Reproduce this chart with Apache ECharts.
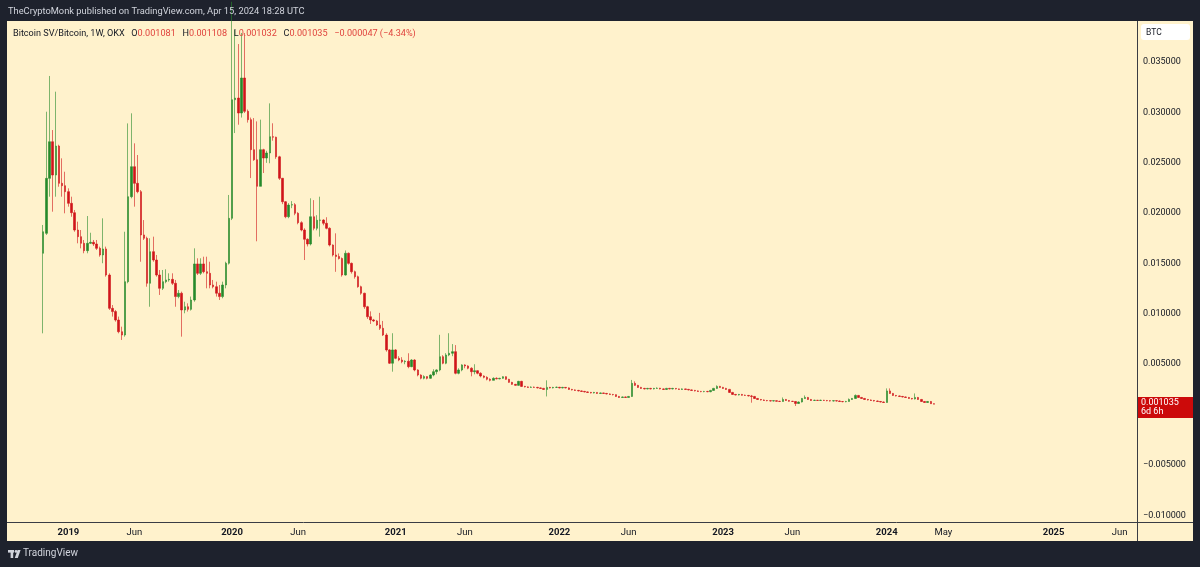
<!DOCTYPE html>
<html>
<head>
<meta charset="utf-8">
<script src="https://cdn.jsdelivr.net/npm/echarts@6/dist/echarts.min.js"></script>
<style>
  html, body { margin: 0; padding: 0; background: #1e222d; }
  #chart { width: 1200px; height: 567px; }
</style>
</head>
<body>
<div id="chart"></div>
<script>
// BSV/BTC weekly candles (OKX), first bar = week of Mon 12 Nov 2018, last = 15 Apr 2024
const firstBarWeek = '2018-11-12'
const padWeeks = 11      // empty weeks left of the first bar
const axisWeeks = 359    // weeks shown on the time scale (incl. future space)

const opens = [
  0.01602, 0.01800, 0.02346, 0.02710, 0.02379, 0.02667, 0.02297, 0.02273, 0.02214, 0.02098,
  0.02005, 0.01833, 0.01767, 0.01701, 0.01628, 0.01701, 0.01711, 0.01694, 0.01651, 0.01585,
  0.01645, 0.01386, 0.01055, 0.01023, 0.00939, 0.00823, 0.00790, 0.01320, 0.02164, 0.02462,
  0.02297, 0.02214, 0.01784, 0.01751, 0.01304, 0.01618, 0.01535, 0.01386, 0.01254, 0.01320,
  0.01337, 0.01343, 0.01304, 0.01172, 0.01205, 0.01039, 0.01071, 0.01045, 0.01138, 0.01496,
  0.01403, 0.01496, 0.01419, 0.01403, 0.01287, 0.01270, 0.01205, 0.01172, 0.01287, 0.01503,
  0.01949, 0.03127, 0.03144, 0.02995, 0.03343, 0.03012, 0.02929, 0.02631, 0.02531, 0.02267,
  0.02631, 0.02548, 0.02598, 0.02760, 0.02755, 0.02560, 0.02347, 0.02114, 0.01965, 0.02081,
  0.02085, 0.01999, 0.01906, 0.01833, 0.01741, 0.01694, 0.01965, 0.01850, 0.01930, 0.01932,
  0.01900, 0.01850, 0.01684, 0.01585, 0.01570, 0.01550, 0.01386, 0.01602, 0.01502, 0.01419,
  0.01369, 0.01270, 0.01205, 0.01071, 0.00972, 0.00940, 0.00930, 0.00890, 0.00857, 0.00790,
  0.00642, 0.00510, 0.00642, 0.00559, 0.00542, 0.00525, 0.00530, 0.00476, 0.00542, 0.00443,
  0.00393, 0.00361, 0.00377, 0.00360, 0.00393, 0.00426, 0.00443, 0.00575, 0.00510, 0.00592,
  0.00609, 0.00625, 0.00410, 0.00443, 0.00493, 0.00483, 0.00460, 0.00426, 0.00436, 0.00410,
  0.00383, 0.00370, 0.00351, 0.00340, 0.00360, 0.00355, 0.00360, 0.00376, 0.00350, 0.00320,
  0.00300, 0.00290, 0.00330, 0.00280, 0.00275, 0.00270, 0.00272, 0.00270, 0.00265, 0.00260,
  0.00250, 0.00270, 0.00265, 0.00270, 0.00271, 0.00265, 0.00270, 0.00265, 0.00250, 0.00245,
  0.00240, 0.00235, 0.00230, 0.00225, 0.00220, 0.00215, 0.00220, 0.00210, 0.00215, 0.00210,
  0.00205, 0.00200, 0.00198, 0.00180, 0.00170, 0.00175, 0.00170, 0.00180, 0.00310, 0.00290,
  0.00270, 0.00260, 0.00255, 0.00260, 0.00255, 0.00260, 0.00262, 0.00255, 0.00250, 0.00260,
  0.00255, 0.00260, 0.00255, 0.00250, 0.00255, 0.00250, 0.00245, 0.00240, 0.00235, 0.00230,
  0.00228, 0.00230, 0.00227, 0.00240, 0.00260, 0.00280, 0.00270, 0.00260, 0.00250, 0.00220,
  0.00200, 0.00195, 0.00200, 0.00192, 0.00190, 0.00185, 0.00180, 0.00160, 0.00150, 0.00145,
  0.00140, 0.00138, 0.00135, 0.00138, 0.00132, 0.00130, 0.00150, 0.00140, 0.00132, 0.00130,
  0.00110, 0.00125, 0.00160, 0.00170, 0.00150, 0.00140, 0.00142, 0.00140, 0.00142, 0.00140,
  0.00138, 0.00135, 0.00138, 0.00135, 0.00130, 0.00128, 0.00130, 0.00150, 0.00160, 0.00190,
  0.00170, 0.00160, 0.00150, 0.00145, 0.00140, 0.00135, 0.00130, 0.00125, 0.00120, 0.00235,
  0.00210, 0.00190, 0.00185, 0.00180, 0.00175, 0.00170, 0.00160, 0.00155, 0.00170, 0.00150,
  0.00130, 0.00120, 0.00130, 0.001081
]

const closes = [
  0.01816, 0.02346, 0.02710, 0.02379, 0.02667, 0.02297, 0.02273, 0.02214, 0.02098, 0.02005,
  0.01833, 0.01767, 0.01701, 0.01628, 0.01701, 0.01711, 0.01694, 0.01651, 0.01585, 0.01645,
  0.01386, 0.01055, 0.01023, 0.00939, 0.00823, 0.00790, 0.01320, 0.02164, 0.02462, 0.02297,
  0.02214, 0.01784, 0.01751, 0.01304, 0.01618, 0.01535, 0.01386, 0.01254, 0.01320, 0.01337,
  0.01343, 0.01304, 0.01172, 0.01205, 0.01039, 0.01071, 0.01045, 0.01138, 0.01496, 0.01403,
  0.01496, 0.01419, 0.01403, 0.01287, 0.01270, 0.01205, 0.01172, 0.01287, 0.01503, 0.01949,
  0.03127, 0.03144, 0.02995, 0.03343, 0.03012, 0.02929, 0.02631, 0.02531, 0.02267, 0.02631,
  0.02548, 0.02598, 0.02760, 0.02755, 0.02560, 0.02347, 0.02114, 0.01965, 0.02081, 0.02085,
  0.01999, 0.01906, 0.01833, 0.01741, 0.01694, 0.01965, 0.01850, 0.01930, 0.01932, 0.01900,
  0.01850, 0.01684, 0.01585, 0.01570, 0.01550, 0.01386, 0.01602, 0.01502, 0.01419, 0.01369,
  0.01270, 0.01205, 0.01071, 0.00972, 0.00940, 0.00930, 0.00890, 0.00857, 0.00790, 0.00642,
  0.00510, 0.00642, 0.00559, 0.00542, 0.00525, 0.00530, 0.00476, 0.00542, 0.00443, 0.00393,
  0.00361, 0.00377, 0.00360, 0.00393, 0.00426, 0.00443, 0.00575, 0.00510, 0.00592, 0.00609,
  0.00625, 0.00410, 0.00443, 0.00493, 0.00483, 0.00460, 0.00426, 0.00436, 0.00410, 0.00383,
  0.00370, 0.00351, 0.00340, 0.00360, 0.00355, 0.00360, 0.00376, 0.00350, 0.00320, 0.00300,
  0.00290, 0.00330, 0.00280, 0.00275, 0.00270, 0.00272, 0.00270, 0.00265, 0.00260, 0.00250,
  0.00270, 0.00265, 0.00270, 0.00271, 0.00265, 0.00270, 0.00265, 0.00250, 0.00245, 0.00240,
  0.00235, 0.00230, 0.00225, 0.00220, 0.00215, 0.00220, 0.00210, 0.00215, 0.00210, 0.00205,
  0.00200, 0.00198, 0.00180, 0.00170, 0.00175, 0.00170, 0.00180, 0.00310, 0.00290, 0.00270,
  0.00260, 0.00255, 0.00260, 0.00255, 0.00260, 0.00262, 0.00255, 0.00250, 0.00260, 0.00255,
  0.00260, 0.00255, 0.00250, 0.00255, 0.00250, 0.00245, 0.00240, 0.00235, 0.00230, 0.00228,
  0.00230, 0.00227, 0.00240, 0.00260, 0.00280, 0.00270, 0.00260, 0.00250, 0.00220, 0.00200,
  0.00195, 0.00200, 0.00192, 0.00190, 0.00185, 0.00180, 0.00160, 0.00150, 0.00145, 0.00140,
  0.00138, 0.00135, 0.00138, 0.00132, 0.00130, 0.00150, 0.00140, 0.00132, 0.00130, 0.00110,
  0.00125, 0.00160, 0.00170, 0.00150, 0.00140, 0.00142, 0.00140, 0.00142, 0.00140, 0.00138,
  0.00135, 0.00138, 0.00135, 0.00130, 0.00128, 0.00130, 0.00150, 0.00160, 0.00190, 0.00170,
  0.00160, 0.00150, 0.00145, 0.00140, 0.00135, 0.00130, 0.00125, 0.00120, 0.00235, 0.00210,
  0.00190, 0.00185, 0.00180, 0.00175, 0.00170, 0.00160, 0.00155, 0.00170, 0.00150, 0.00130,
  0.00120, 0.00130, 0.001082, 0.001035
]

const lows = [
  0.00807, 0.01784, 0.02164, 0.02015, 0.02164, 0.02263, 0.02164, 0.01999, 0.02065, 0.01965,
  0.01816, 0.01701, 0.01651, 0.01602, 0.01602, 0.01694, 0.01674, 0.01635, 0.01568, 0.01503,
  0.01370, 0.01039, 0.00973, 0.00923, 0.00807, 0.00741, 0.00774, 0.01304, 0.02148, 0.02065,
  0.02198, 0.01518, 0.01734, 0.01270, 0.01071, 0.01518, 0.01370, 0.01188, 0.01237, 0.01304,
  0.01320, 0.01287, 0.01071, 0.01155, 0.00774, 0.01006, 0.01023, 0.01033, 0.01121, 0.01386,
  0.01386, 0.01403, 0.01254, 0.01254, 0.01254, 0.01172, 0.01138, 0.01155, 0.01254, 0.01490,
  0.01932, 0.02796, 0.02879, 0.02950, 0.02995, 0.02900, 0.02349, 0.02520, 0.01721, 0.02267,
  0.02399, 0.02500, 0.02496, 0.02720, 0.02540, 0.02330, 0.02090, 0.01950, 0.01950, 0.02050,
  0.01980, 0.01890, 0.01820, 0.01535, 0.01670, 0.01680, 0.01830, 0.01830, 0.01767, 0.01880,
  0.01840, 0.01670, 0.01570, 0.01418, 0.01540, 0.01370, 0.01380, 0.01490, 0.01400, 0.01350,
  0.01260, 0.01190, 0.01050, 0.00950, 0.00900, 0.00920, 0.00880, 0.00840, 0.00780, 0.00625,
  0.00503, 0.00426, 0.00550, 0.00530, 0.00510, 0.00500, 0.00460, 0.00470, 0.00430, 0.00380,
  0.00350, 0.00350, 0.00350, 0.00355, 0.00380, 0.00400, 0.00430, 0.00500, 0.00500, 0.00580,
  0.00580, 0.00400, 0.00400, 0.00430, 0.00460, 0.00450, 0.00380, 0.00400, 0.00400, 0.00370,
  0.00360, 0.00340, 0.00330, 0.00340, 0.00350, 0.00350, 0.00355, 0.00345, 0.00315, 0.00295,
  0.00285, 0.00285, 0.00275, 0.00270, 0.00265, 0.00265, 0.00265, 0.00260, 0.00255, 0.00245,
  0.00180, 0.00260, 0.00260, 0.00265, 0.00260, 0.00260, 0.00260, 0.00245, 0.00240, 0.00235,
  0.00230, 0.00225, 0.00220, 0.00215, 0.00210, 0.00210, 0.00205, 0.00205, 0.00205, 0.00200,
  0.00195, 0.00190, 0.00175, 0.00165, 0.00165, 0.00165, 0.00168, 0.00175, 0.00285, 0.00265,
  0.00255, 0.00250, 0.00250, 0.00250, 0.00250, 0.00255, 0.00250, 0.00245, 0.00245, 0.00250,
  0.00250, 0.00250, 0.00245, 0.00245, 0.00245, 0.00240, 0.00235, 0.00230, 0.00225, 0.00222,
  0.00222, 0.00222, 0.00222, 0.00238, 0.00255, 0.00265, 0.00255, 0.00245, 0.00215, 0.00195,
  0.00190, 0.00190, 0.00188, 0.00185, 0.00180, 0.00118, 0.00155, 0.00145, 0.00140, 0.00135,
  0.00132, 0.00130, 0.00130, 0.00128, 0.00125, 0.00128, 0.00135, 0.00128, 0.00125, 0.00085,
  0.00105, 0.00120, 0.00155, 0.00145, 0.00135, 0.00135, 0.00135, 0.00135, 0.00135, 0.00132,
  0.00130, 0.00130, 0.00130, 0.00125, 0.00122, 0.00122, 0.00128, 0.00145, 0.00155, 0.00165,
  0.00155, 0.00145, 0.00140, 0.00135, 0.00130, 0.00125, 0.00120, 0.00115, 0.00118, 0.00205,
  0.00185, 0.00180, 0.00175, 0.00170, 0.00165, 0.00155, 0.00150, 0.00150, 0.00145, 0.00125,
  0.00115, 0.00115, 0.00105, 0.001032
]

const highs = [
  0.01883, 0.03008, 0.03363, 0.02826, 0.03207, 0.02680, 0.02545, 0.02412, 0.02247, 0.02164,
  0.02032, 0.01916, 0.01833, 0.01734, 0.01972, 0.01806, 0.01734, 0.01734, 0.01668, 0.01949,
  0.01668, 0.01403, 0.01088, 0.01039, 0.00973, 0.00873, 0.01816, 0.02892, 0.02992, 0.02694,
  0.02578, 0.02230, 0.01932, 0.01767, 0.01751, 0.01767, 0.01585, 0.01436, 0.01436, 0.01443,
  0.01403, 0.01403, 0.01337, 0.01237, 0.01221, 0.01121, 0.01105, 0.01172, 0.01651, 0.01552,
  0.01552, 0.01568, 0.01568, 0.01518, 0.01337, 0.01320, 0.01287, 0.01320, 0.01518, 0.02181,
  0.04100, 0.03820, 0.03680, 0.03790, 0.03790, 0.03030, 0.02950, 0.02945, 0.02912, 0.02929,
  0.02640, 0.02620, 0.03091, 0.02893, 0.02760, 0.02570, 0.02350, 0.02120, 0.02100, 0.02120,
  0.02100, 0.02010, 0.01920, 0.01850, 0.01750, 0.02148, 0.02130, 0.01980, 0.02164, 0.01940,
  0.01960, 0.01860, 0.01690, 0.01800, 0.01600, 0.01560, 0.01630, 0.01610, 0.01510, 0.01430,
  0.01380, 0.01280, 0.01210, 0.01080, 0.01025, 0.00950, 0.00940, 0.01010, 0.00930, 0.00808,
  0.00650, 0.00808, 0.00650, 0.00580, 0.00570, 0.00540, 0.00609, 0.00550, 0.00550, 0.00450,
  0.00400, 0.00390, 0.00380, 0.00400, 0.00450, 0.00450, 0.00792, 0.00590, 0.00610, 0.00808,
  0.00700, 0.00690, 0.00460, 0.00500, 0.00500, 0.00490, 0.00470, 0.00500, 0.00440, 0.00420,
  0.00390, 0.00380, 0.00360, 0.00370, 0.00370, 0.00365, 0.00380, 0.00380, 0.00355, 0.00325,
  0.00305, 0.00335, 0.00335, 0.00285, 0.00280, 0.00280, 0.00278, 0.00275, 0.00270, 0.00265,
  0.00340, 0.00275, 0.00275, 0.00278, 0.00275, 0.00275, 0.00272, 0.00270, 0.00255, 0.00250,
  0.00245, 0.00240, 0.00235, 0.00230, 0.00225, 0.00225, 0.00222, 0.00220, 0.00218, 0.00215,
  0.00210, 0.00205, 0.00200, 0.00185, 0.00180, 0.00180, 0.00185, 0.00344, 0.00330, 0.00295,
  0.00275, 0.00265, 0.00265, 0.00265, 0.00265, 0.00270, 0.00265, 0.00260, 0.00265, 0.00265,
  0.00265, 0.00262, 0.00258, 0.00260, 0.00258, 0.00255, 0.00250, 0.00245, 0.00240, 0.00235,
  0.00235, 0.00235, 0.00245, 0.00265, 0.00290, 0.00285, 0.00275, 0.00265, 0.00255, 0.00225,
  0.00205, 0.00205, 0.00205, 0.00198, 0.00195, 0.00195, 0.00185, 0.00165, 0.00155, 0.00150,
  0.00145, 0.00142, 0.00142, 0.00142, 0.00136, 0.00170, 0.00155, 0.00145, 0.00136, 0.00135,
  0.00130, 0.00165, 0.00190, 0.00175, 0.00155, 0.00148, 0.00146, 0.00148, 0.00146, 0.00145,
  0.00142, 0.00142, 0.00142, 0.00140, 0.00134, 0.00136, 0.00160, 0.00165, 0.00200, 0.00195,
  0.00175, 0.00165, 0.00155, 0.00150, 0.00145, 0.00140, 0.00135, 0.00130, 0.00260, 0.00260,
  0.00215, 0.00195, 0.00190, 0.00185, 0.00180, 0.00175, 0.00165, 0.00210, 0.00175, 0.00155,
  0.00135, 0.00135, 0.00135, 0.001108
]

// time scale labels: first weekly bar on/after each date
const timeTickDates = ['2019-01-01', '2019-06-01', '2020-01-01', '2020-06-01', '2021-01-01', '2021-06-01',
  '2022-01-01', '2022-06-01', '2023-01-01', '2023-06-01', '2024-01-01', '2024-05-01', '2025-01-01', '2025-06-01']
const timeTickTexts = ['2019', 'Jun', '2020', 'Jun', '2021', 'Jun', '2022', 'Jun', '2023', 'Jun', '2024', 'May', '2025', 'Jun']

const priceTicks = [-0.01, -0.005, 0.005, 0.01, 0.015, 0.02, 0.025, 0.03, 0.035]
const priceMin = -0.01067
const priceMax = 0.03909

const symbolTitle = 'Bitcoin SV/Bitcoin, 1W, OKX'
const publishedText = 'TheCryptoMonk published on TradingView.com, Apr 15, 2024 18:28 UTC'
const barTimeLeft = '6d 6h'

const upColor = '#26892b'
const downColor = '#d0141a'
const valueRed = '#e0433d'
const font = 'Roboto, "Liberation Sans", sans-serif'

const WEEK = 7 * 24 * 3600 * 1000
const firstT = Date.parse(firstBarWeek + 'T00:00:00Z')
const weekTimes = []
for (let i = 0; i < axisWeeks; i++) weekTimes.push(firstT + (i - padWeeks) * WEEK)
const categories = weekTimes.map(t => new Date(t).toISOString().slice(0, 10))

const tickAt = {}
timeTickDates.forEach((d, j) => {
  const t = Date.parse(d + 'T00:00:00Z')
  const idx = weekTimes.findIndex(w => w >= t)
  if (idx >= 0) tickAt[idx] = j
})

const candleData = categories.map((c, i) => {
  const k = i - padWeeks
  if (k < 0 || k >= closes.length) return ['-', '-', '-', '-']
  return [opens[k], closes[k], lows[k], highs[k]]
})

const n = closes.length
const lastClose = closes[n - 1]
const change = lastClose - closes[n - 2]
const changePct = change / closes[n - 2] * 100
const fmt = v => (v < 0 ? '\u2212' : '') + Math.abs(v).toFixed(6)

const chart = echarts.init(document.getElementById('chart'))

chart.setOption({
  backgroundColor: '#1e222d',
  animation: false,
  grid: { left: 7, right: 63, top: 21, bottom: 45 },
  xAxis: {
    type: 'category',
    data: categories,
    boundaryGap: true,
    axisLine: { show: false },
    axisTick: { show: false },
    splitLine: { show: false },
    axisLabel: {
      interval: (index) => tickAt[index] !== undefined,
      formatter: (value, index) => {
        const j = tickAt[index]
        if (j === undefined) return ''
        const txt = timeTickTexts[j]
        return /^\d+$/.test(txt) ? '{y|' + txt + '}' : '{m|' + txt + '}'
      },
      margin: 6,
      rich: {
        y: { fontSize: 9.5, fontWeight: 'bold', color: '#131722', fontFamily: font },
        m: { fontSize: 9.5, color: '#131722', fontFamily: font }
      }
    }
  },
  yAxis: {
    type: 'value',
    position: 'right',
    min: priceMin,
    max: priceMax,
    splitLine: { show: false },
    axisLine: { show: false },
    axisTick: { show: false },
    axisLabel: {
      customValues: priceTicks,
      formatter: v => fmt(v),
      margin: 6,
      fontSize: 9,
      color: '#131722',
      fontFamily: font
    }
  },
  series: [{
    type: 'candlestick',
    data: candleData,
    barWidth: 2,
    clip: true,
    itemStyle: {
      color: upColor,
      color0: downColor,
      borderColor: upColor,
      borderColor0: downColor,
      borderWidth: 0.6
    },
    markLine: {
      symbol: 'none',
      silent: true,
      animation: false,
      lineStyle: { color: 'rgba(0,0,0,0)', width: 0 },
      label: {
        show: true,
        position: 'end',
        distance: 1,
        formatter: () => fmt(lastClose) + '\n' + barTimeLeft,
        color: '#ffffff',
        backgroundColor: '#cc0a0a',
        padding: [2, 3, 1, 3],
        width: 49,
        fontSize: 9,
        lineHeight: 9,
        align: 'left',
        offset: [0, -7],
        fontFamily: font
      },
      data: [{ yAxis: lastClose }]
    }
  }],
  graphic: [
    // cream panel behind the chart
    { type: 'rect', z: -10, silent: true, shape: { x: 7, y: 21, width: 1186, height: 520 }, style: { fill: '#fff2cc' } },
    // pane separators
    { type: 'line', z: 50, silent: true, shape: { x1: 7, y1: 522.5, x2: 1193, y2: 522.5 }, style: { stroke: '#3a3d44', lineWidth: 1 } },
    { type: 'line', z: 50, silent: true, shape: { x1: 1137.5, y1: 21, x2: 1137.5, y2: 541 }, style: { stroke: '#3a3d44', lineWidth: 1 } },
    // header
    { type: 'text', z: 100, left: 8, top: 7, style: { text: publishedText, fill: '#d1d4dc', font: '9.3px ' + font } },
    // legend
    {
      type: 'text', z: 100, left: 13, top: 28,
      style: {
        text: '{t|' + symbolTitle + '}  {k|O}{v|' + fmt(opens[n - 1]) + '}  {k|H}{v|' + fmt(highs[n - 1]) +
          '}  {k|L}{v|' + fmt(lows[n - 1]) + '}  {k|C}{v|' + fmt(lastClose) + '}  {v|' + fmt(change) +
          ' (' + (changePct < 0 ? '\u2212' : '') + Math.abs(changePct).toFixed(2) + '%)}',
        rich: {
          t: { fill: '#131722', fontSize: 9.1, fontFamily: font },
          k: { fill: '#131722', fontSize: 9.1, fontFamily: font },
          v: { fill: valueRed, fontSize: 9.1, fontFamily: font }
        }
      }
    },
    // currency box
    { type: 'rect', z: 100, silent: true, shape: { x: 1141, y: 24, width: 49, height: 16, r: 3 }, style: { fill: '#ffffff' } },
    { type: 'text', z: 101, left: 1146, top: 28, style: { text: 'BTC', fill: '#131722', font: '8.5px ' + font } },
    // TradingView logo
    { type: 'rect', z: 100, shape: { x: 8, y: 550, width: 6, height: 2.6 }, style: { fill: '#d1d4dc' } },
    { type: 'rect', z: 100, shape: { x: 10.6, y: 550, width: 2.6, height: 8 }, style: { fill: '#d1d4dc' } },
    { type: 'circle', z: 100, shape: { cx: 16, cy: 551.4, r: 1.4 }, style: { fill: '#d1d4dc' } },
    { type: 'polygon', z: 100, shape: { points: [[17.6, 550], [20.6, 550], [17.8, 558], [14.8, 558]] }, style: { fill: '#d1d4dc' } },
    { type: 'text', z: 100, left: 23, top: 548, style: { text: 'TradingView', fill: '#d1d4dc', font: '10px ' + font } }
  ]
})
</script>
</body>
</html>
